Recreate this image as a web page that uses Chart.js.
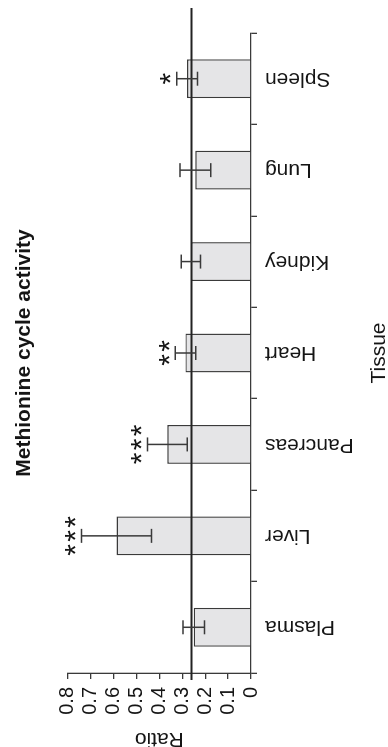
<!DOCTYPE html>
<html>
<head>
<meta charset="utf-8">
<script src="https://cdn.jsdelivr.net/npm/chart.js@4/dist/chart.umd.min.js"></script>
<style>
  html, body { margin: 0; padding: 0; background: #fff; overflow: hidden; }
  body { width: 388px; height: 747px; position: relative; }
  /* The figure is laid out landscape and turned a quarter turn counter-clockwise */
  #frame {
    position: absolute; left: 0; top: 0;
    width: 747px; height: 388px;
    transform-origin: 0 0;
    transform: translate(0, 747px) rotate(-90deg);
  }
</style>
</head>
<body>
<div id="frame"><canvas id="chart" width="747" height="388"></canvas></div>
<script>
// Methionine cycle activity per tissue (ratio, mean ± SEM)
const tissues = ['Plasma', 'Liver', 'Pancreas', 'Heart', 'Kidney', 'Lung', 'Spleen'];
const ratio = [0.250, 0.587, 0.365, 0.286, 0.262, 0.243, 0.279];
const sem = [0.047, 0.153, 0.087, 0.045, 0.042, 0.067, 0.045];
const significance = ['', '***', '***', '**', '', '', '*'];
const referenceRatio = 0.263;
const ratioTicks = [0, 0.1, 0.2, 0.3, 0.4, 0.5, 0.6, 0.7, 0.8];

const FONT = '"Liberation Sans", Arial, Helvetica, sans-serif';
const INK = '#151515';
const LINE = '#3a3a3a';

const overlay = {
  id: 'overlay',
  afterDatasetsDraw(chart) {
    const { ctx, chartArea, scales: { x, y } } = chart;
    ctx.save();

    // reference ratio line
    const ry = Math.round(y.getPixelForValue(referenceRatio)) + 0.5;
    ctx.strokeStyle = '#222';
    ctx.lineWidth = 2.2;
    ctx.beginPath();
    ctx.moveTo(chartArea.left - 7, ry);
    ctx.lineTo(chartArea.right + 25, ry);
    ctx.stroke();

    // error bars
    ctx.strokeStyle = LINE;
    ctx.lineWidth = 1.5;
    const cap = 7;
    tissues.forEach((t, i) => {
      const cx = x.getPixelForValue(i);
      const hi = y.getPixelForValue(ratio[i] + sem[i]);
      const lo = y.getPixelForValue(ratio[i] - sem[i]);
      ctx.beginPath();
      ctx.moveTo(cx, hi); ctx.lineTo(cx, lo);
      ctx.moveTo(cx - cap, hi); ctx.lineTo(cx + cap, hi);
      ctx.moveTo(cx - cap, lo); ctx.lineTo(cx + cap, lo);
      ctx.stroke();
    });

    // significance stars above the error bars
    ctx.fillStyle = INK;
    ctx.font = '30px ' + FONT;
    ctx.textAlign = 'center';
    ctx.textBaseline = 'alphabetic';
    const m = ctx.measureText('*');
    const shift = (m.actualBoundingBoxAscent - m.actualBoundingBoxDescent) / 2;
    const gap = 14;
    significance.forEach((s, i) => {
      if (!s) return;
      const cx = x.getPixelForValue(i);
      const cy = y.getPixelForValue(ratio[i] + sem[i]) - 11;
      const n = s.length;
      for (let k = 0; k < n; k++) {
        ctx.fillText('*', cx + (k - (n - 1) / 2) * gap, cy + shift);
      }
    });
    ctx.restore();
  },
  afterDraw(chart) {
    const { ctx, chartArea } = chart;
    ctx.save();
    ctx.fillStyle = INK;
    ctx.font = 'bold 21px ' + FONT;
    ctx.textAlign = 'center';
    ctx.textBaseline = 'alphabetic';
    ctx.fillText('Methionine cycle activity', (chartArea.left + chartArea.right) / 2, 29.5);
    ctx.restore();
  }
};

new Chart(document.getElementById('chart'), {
  type: 'bar',
  data: {
    labels: tissues,
    datasets: [{
      data: ratio,
      backgroundColor: '#e5e5e7',
      borderColor: LINE,
      borderWidth: 1.4,
      barPercentage: 0.425,
      categoryPercentage: 1
    }]
  },
  options: {
    responsive: false,
    animation: false,
    devicePixelRatio: 1,
    layout: { padding: { top: 67.7, right: 33, left: 0, bottom: 0 } },
    plugins: { legend: { display: false }, tooltip: { enabled: false }, title: { display: false } },
    scales: {
      x: {
        type: 'category',
        offset: true,
        grid: { display: true, offset: true, drawOnChartArea: false, drawTicks: true, tickLength: 6, color: LINE, lineWidth: 1.3 },
        border: { display: true, color: LINE, width: 1.3 },
        ticks: {
          minRotation: 90, maxRotation: 90, autoSkip: false, padding: 8,
          color: INK, font: { family: FONT, size: 21 }
        },
        title: {
          display: true, text: 'Tissue', color: INK, padding: 0,
          font: { family: FONT, size: 21, lineHeight: 0.86 }
        },
        afterFit(scale) { scale.height = 137; }
      },
      y: {
        min: 0, max: 0.8,
        afterBuildTicks(scale) { scale.ticks = ratioTicks.map(v => ({ value: v })); },
        grid: { display: true, drawOnChartArea: false, drawTicks: true, tickLength: 6, color: LINE, lineWidth: 1.3 },
        border: { display: true, color: LINE, width: 1.3 },
        ticks: {
          autoSkip: false, padding: 8, color: INK, font: { family: FONT, size: 20 },
          callback: v => String(Math.round(v * 10) / 10)
        },
        title: {
          display: true, text: 'Ratio', color: INK, padding: 0,
          font: { family: FONT, size: 21, lineHeight: 0.76 }
        },
        afterFit(scale) { scale.width = 74; }
      }
    }
  },
  plugins: [overlay]
});
</script>
</body>
</html>
